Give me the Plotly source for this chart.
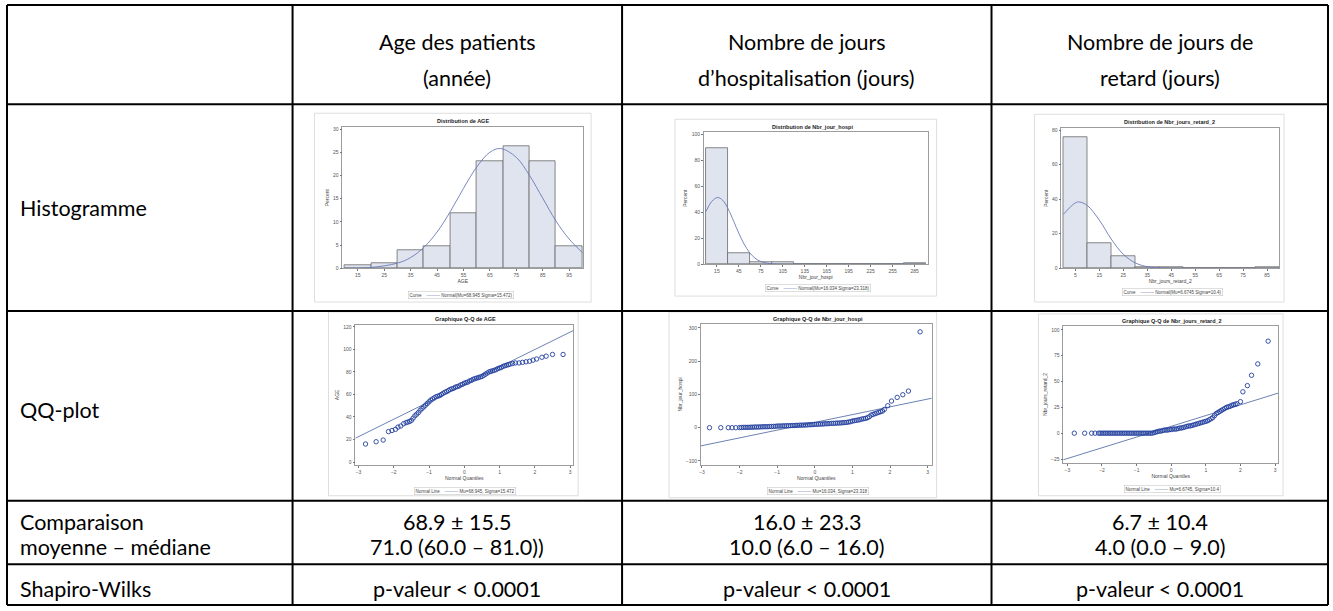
import plotly.graph_objects as go

W, H = 1333, 611

# ---------------- table text ----------------
col_headers = [["Age des patients", "(année)"],
               ["Nombre de jours", "d’hospitalisation (jours)"],
               ["Nombre de jours de", "retard (jours)"]]
row_labels = ["Histogramme", "QQ-plot", "Comparaison", "moyenne – médiane", "Shapiro-Wilks"]
mean_sd = ["68.9 ± 15.5", "16.0 ± 23.3", "6.7 ± 10.4"]
median_iqr = ["71.0 (60.0 – 81.0))", "10.0 (6.0 – 16.0)", "4.0 (0.0 – 9.0)"]
shapiro = ["p-valeur < 0.0001", "p-valeur < 0.0001", "p-valeur < 0.0001"]

# ---------------- histogram data ----------------
age_bins = [15, 25, 35, 45, 55, 65, 75, 85, 95]
age_pct = [0.6, 1.2, 3.8, 4.7, 11.8, 23.0, 26.2, 23.0, 4.7]
age_ticks = [15, 25, 35, 45, 55, 65, 75, 85, 95]
age_curve_x = [10, 20, 30, 35, 40, 45, 50, 55, 60, 65, 69, 75, 80, 85, 90, 95, 100]
age_curve_y = [0.02, 0.17, 1.1, 2.3, 4.5, 7.8, 12.2, 17.2, 21.8, 25.0, 25.8, 23.9, 20.0, 15.1, 10.2, 6.3, 3.4]

hosp_bins = [15, 45, 75, 105, 135, 165, 195, 225, 255, 285]
hosp_pct = [89.0, 8.5, 1.5, 1.5, 0.0, 0.0, 0.0, 0.0, 0.0, 0.5]
hosp_ticks = [15, 45, 75, 105, 135, 165, 195, 225, 255, 285]
hosp_curve_x = [0, 8, 16, 23, 30, 38, 45, 52, 60, 67, 75, 90, 105, 120, 300]
hosp_curve_y = [40.5, 48.3, 51.3, 49.1, 42.9, 32.9, 23.7, 15.6, 8.7, 4.7, 2.1, 0.3, 0.04, 0.0, 0.0]

ret_bins = [5, 15, 25, 35, 45, 55, 65, 75, 85]
ret_pct = [76.0, 14.5, 7.0, 0.5, 0.5, 0.3, 0.3, 0.0, 0.4]
ret_ticks = [5, 15, 25, 35, 45, 55, 65, 75, 85]
ret_curve_x = [0, 5, 6.7, 10, 15, 20, 25, 30, 35, 40, 50, 90]
ret_curve_y = [31.2, 37.9, 38.4, 36.4, 27.9, 16.9, 8.1, 3.1, 0.9, 0.23, 0.0, 0.0]

# ---------------- QQ data ----------------
age_q = [-2.8, -2.5, -2.3, -2.15, -2.05, -1.95, -1.88, -1.8, -1.72, -1.65, -1.6, -1.55, -1.5, -1.45,
         -1.40, -1.35, -1.30, -1.25, -1.20, -1.15, -1.10, -1.05, -1.00, -0.95, -0.90, -0.85, -0.80,
         -0.75, -0.70, -0.65, -0.60, -0.55, -0.50, -0.45, -0.40, -0.35, -0.30, -0.25, -0.20, -0.15,
         -0.10, -0.05, 0.00, 0.05, 0.10, 0.15, 0.20, 0.25, 0.30, 0.35, 0.40, 0.45, 0.50, 0.55, 0.60,
         0.65, 0.70, 0.75, 0.80, 0.85, 0.90, 0.95, 1.00, 1.05, 1.10, 1.15, 1.20, 1.25, 1.30,
         1.37, 1.45, 1.55, 1.65, 1.75, 1.85, 1.95, 2.05, 2.2, 2.32, 2.5, 2.8]
age_v = [16, 18, 19.5, 27, 28, 29, 31, 32, 34, 35, 35.5, 36, 37, 39,
         41, 42.5, 44, 46, 47.5, 49, 50.5, 52, 53.5, 55, 56, 57, 58,
         58.5, 59, 60, 61, 62, 62.5, 63.5, 64.5, 65, 65.5, 66.5, 67, 67.5,
         68.5, 69, 70, 70.5, 71, 72, 72.5, 73.5, 74, 74.5, 75, 75.5, 76, 77, 78,
         79, 80, 80.5, 81, 81.5, 82, 83, 83.5, 84, 85, 85.5, 86, 86.5, 87,
         87.5, 88, 88, 88.5, 89, 89.5, 90.5, 91.5, 93, 94, 95.5, 95.5]
age_line_x = [-3.2, 3.2]
age_line_y = [19.4, 118.5]

hosp_q = [-2.8, -2.5, -2.3, -2.2, -2.1, -2.0, -1.95, -1.9, -1.85, -1.8,
          -1.75, -1.70, -1.65, -1.60, -1.55, -1.50, -1.45, -1.40, -1.35, -1.30, -1.25, -1.20, -1.15,
          -1.10, -1.05, -1.00, -0.95, -0.90, -0.85, -0.80, -0.75, -0.70, -0.65, -0.60, -0.55, -0.50,
          -0.45, -0.40, -0.35, -0.30, -0.25, -0.20, -0.15, -0.10, -0.05, 0.00, 0.05, 0.10, 0.15,
          0.20, 0.25, 0.30, 0.35, 0.40, 0.45, 0.50, 0.55, 0.60, 0.65, 0.70, 0.75, 0.80, 0.85, 0.90,
          0.95, 1.00, 1.05, 1.10, 1.15, 1.20, 1.25, 1.30, 1.35, 1.40, 1.45, 1.50, 1.55, 1.60, 1.65,
          1.70, 1.75, 1.80, 1.85, 1.94, 2.04, 2.19, 2.34, 2.49, 2.8]
hosp_v = [0, 0, 0, 0, 0, 0.5, 0.5, 1, 1, 1,
          1, 1.5, 1.5, 2, 2, 2, 2.5, 2.5, 3, 3, 3, 3.5, 3.5,
          4, 4, 5, 5, 5, 5.5, 5.5, 6, 6, 6, 6.5, 6.5, 7,
          7, 7.5, 7.5, 8, 8, 8.5, 9, 9, 9.5, 10, 10, 10.5, 11,
          11, 11.5, 12, 12, 12.5, 13, 13, 13.5, 14, 14, 14.5, 15, 15.5, 16, 17,
          18, 20, 21, 22, 23, 24, 26, 27, 28, 30, 33, 38, 40, 42, 44,
          46, 48, 50, 55, 66, 80, 91, 99, 110, 288]
hosp_line_x = [-3.2, 3.2]
hosp_line_y = [-58.6, 90.6]

ret_q = [-2.8, -2.5, -2.3, -2.2, -2.1, -2.05,
         -2.00, -1.95, -1.90, -1.85, -1.80, -1.75, -1.70, -1.65, -1.60, -1.55, -1.50, -1.45, -1.40,
         -1.35, -1.30, -1.25, -1.20, -1.15, -1.10, -1.05, -1.00, -0.95, -0.90, -0.85, -0.80, -0.75,
         -0.70, -0.65, -0.60, -0.55, -0.50, -0.45, -0.40, -0.35, -0.30, -0.25, -0.20, -0.15, -0.10,
         -0.05, 0.00, 0.05, 0.10, 0.15, 0.20, 0.25, 0.30, 0.35, 0.40, 0.45, 0.50, 0.55, 0.60, 0.65,
         0.70, 0.75, 0.80, 0.85, 0.90, 0.95, 1.00, 1.05, 1.10, 1.15, 1.20, 1.25, 1.30, 1.35, 1.40,
         1.45, 1.50, 1.55, 1.60, 1.65, 1.70, 1.75, 1.80, 1.85, 1.90,
         2.0, 2.07, 2.2, 2.32, 2.5, 2.8]
ret_v = [0, 0, 0, 0, 0, 0,
         0, 0, 0, 0, 0, 0, 0, 0, 0, 0, 0, 0, 0,
         0, 0, 0, 0, 0, 0, 0, 0, 0, 0, 0, 0, 0,
         0, 0, 0, 0, 0.5, 1, 1.5, 2, 2, 2.5, 3, 3, 3,
         3.5, 3.5, 4, 4, 4, 4.5, 5, 5, 5.5, 6, 6.5, 7, 7, 7.5, 8,
         8.5, 9, 9.5, 10, 10.5, 11, 11.5, 12, 13, 14, 15, 17, 19, 20, 21,
         22, 23, 24, 25, 25.5, 26, 27, 27.5, 28, 28.5,
         30.5, 40, 46, 56, 67, 89]
ret_line_x = [-3.2, 3.2]
ret_line_y = [-26.6, 39.9]

FONT = "Lato"
SAS_FONT = "Liberation Sans"
BAR_FILL = "#dfe4ef"
BAR_EDGE = "#6b6b6b"
CURVE = "#6a7bb6"
QQ_MARK = "#23409e"
QQ_LINE = "#6c82b4"


def px(x):
    return x / W


def py(y):
    return 1 - y / H


fig = go.Figure()

# panel definitions: plot area in pixels, range, ticks
panels = [
    dict(box=(341, 127, 582, 269), xr=[9.2, 100.3], yr=[0, 30.4], xt=age_ticks, yt=[0, 5, 10, 15, 20, 25, 30],
         xtitle="AGE", ytitle="Percent"),
    dict(box=(703, 132, 927, 265), xr=[-2.7, 302.7], yr=[0, 101.5], xt=hosp_ticks, yt=[0, 20, 40, 60, 80, 100],
         xtitle="Nbr_jour_hospi", ytitle="Percent"),
    dict(box=(1061, 128, 1279, 269), xr=[-0.8, 90], yr=[0, 81.2], xt=ret_ticks, yt=[0, 20, 40, 60, 80],
         xtitle="Nbr_jours_retard_2", ytitle="Percent"),
    dict(box=(354, 326, 572, 467), xr=[-3.085, 3.085], yr=[-2.6, 121.8], xt=[-3, -2, -1, 0, 1, 2, 3],
         yt=[0, 20, 40, 60, 80, 100, 120], xtitle="Normal Quantiles", ytitle="AGE"),
    dict(box=(700, 325, 931, 467), xr=[-3.027, 3.106], yr=[-111.9, 311.9], xt=[-3, -2, -1, 0, 1, 2, 3],
         yt=[-100, 0, 100, 200, 300], xtitle="Normal Quantiles", ytitle="Nbr_jour_hospi"),
    dict(box=(1063, 327, 1278, 465), xr=[-3.115, 3.087], yr=[-28.8, 103.8], xt=[-3, -2, -1, 0, 1, 2, 3],
         yt=[-25, 0, 25, 50, 75, 100], xtitle="Normal Quantiles", ytitle="Nbr_jours_retard_2"),
]

layout_axes = {}
for i, p in enumerate(panels, start=1):
    x0, y0, x1, y1 = p["box"]
    common = dict(showline=True, mirror=True, linecolor="#9c9c9c", linewidth=0.8,
                  ticks="outside", ticklen=2, tickwidth=0.6, tickcolor="#777777",
                  tickfont=dict(size=5, color="#555555", family=SAS_FONT),
                  showgrid=False, zeroline=False, fixedrange=True)
    xa = dict(common, domain=[px(x0), px(x1)], range=p["xr"], tickvals=p["xt"],
              anchor="y" if i == 1 else f"y{i}",
              title=dict(text=p["xtitle"], font=dict(size=5, color="#444444", family=SAS_FONT), standoff=2))
    ya = dict(common, domain=[py(y1), py(y0)], range=p["yr"], tickvals=p["yt"],
              anchor="x" if i == 1 else f"x{i}",
              title=dict(text=p["ytitle"], font=dict(size=5, color="#444444", family=SAS_FONT), standoff=3))
    layout_axes["xaxis" if i == 1 else f"xaxis{i}"] = xa
    layout_axes["yaxis" if i == 1 else f"yaxis{i}"] = ya


def ax(i):
    return ("x" if i == 1 else f"x{i}"), ("y" if i == 1 else f"y{i}")


hists = [(age_bins, age_pct, 10, age_curve_x, age_curve_y),
         (hosp_bins, hosp_pct, 30, hosp_curve_x, hosp_curve_y),
         (ret_bins, ret_pct, 10, ret_curve_x, ret_curve_y)]
for i, (b, v, w, cx, cy) in enumerate(hists, start=1):
    xa, ya = ax(i)
    fig.add_trace(go.Bar(x=b, y=v, width=[w] * len(b), xaxis=xa, yaxis=ya,
                         marker=dict(color=BAR_FILL, line=dict(color=BAR_EDGE, width=0.8)),
                         showlegend=False, hoverinfo="skip"))
    fig.add_trace(go.Scatter(x=cx, y=cy, mode="lines", xaxis=xa, yaxis=ya,
                             line=dict(color=CURVE, width=0.9, shape="spline"),
                             showlegend=False, hoverinfo="skip"))

qqs = [(age_q, age_v, age_line_x, age_line_y),
       (hosp_q, hosp_v, hosp_line_x, hosp_line_y),
       (ret_q, ret_v, ret_line_x, ret_line_y)]
for j, (q, v, lx, ly) in enumerate(qqs, start=4):
    xa, ya = ax(j)
    fig.add_trace(go.Scatter(x=lx, y=ly, mode="lines", xaxis=xa, yaxis=ya,
                             line=dict(color=QQ_LINE, width=1.0),
                             showlegend=False, hoverinfo="skip"))
    fig.add_trace(go.Scatter(x=q, y=v, mode="markers", xaxis=xa, yaxis=ya,
                             marker=dict(symbol="circle-open", size=4.4, color=QQ_MARK,
                                         line=dict(width=0.9, color=QQ_MARK)),
                             showlegend=False, hoverinfo="skip"))

shapes = []
annotations = []

# image frames of the embedded SAS plots
frames = [(313, 113, 590, 303), (674, 119, 936, 297), (1034, 114, 1284, 303),
          (327, 313, 577, 498), (668, 313, 936, 500), (1038, 315, 1283, 498)]
for (x0, y0, x1, y1) in frames:
    shapes.append(dict(type="rect", xref="paper", yref="paper", x0=px(x0), x1=px(x1), y0=py(y1), y1=py(y0),
                       line=dict(color="#d6d6d6", width=0.8), fillcolor="rgba(0,0,0,0)", layer="below"))

titles = [("Distribution de AGE", 462, 121), ("Distribution de Nbr_jour_hospi", 812, 127),
          ("Distribution de Nbr_jours_retard_2", 1169, 122), ("Graphique Q-Q de AGE", 464, 320),
          ("Graphique Q-Q de Nbr_jour_hospi", 817, 320), ("Graphique Q-Q de Nbr_jours_retard_2", 1172, 322)]
for t, x, y in titles:
    annotations.append(dict(text=f"<b>{t}</b>", x=px(x), y=py(y), xref="paper", yref="paper",
                            showarrow=False, font=dict(size=5.5, family=SAS_FONT, color="#222222"),
                            xanchor="center", yanchor="middle"))

legends = [("Curve", "Normal(Mu=68.945 Sigma=15.472)", 460, 296),
           ("Curve", "Normal(Mu=16.034 Sigma=23.318)", 817, 289),
           ("Curve", "Normal(Mu=6.6745 Sigma=10.4)", 1172, 293),
           ("Normal Line", "Mu=68.945, Sigma=15.472", 464, 493),
           ("Normal Line", "Mu=16.034, Sigma=23.318", 817, 493),
           ("Normal Line", "Mu=6.6745, Sigma=10.4", 1172, 491)]
for lab, txt_, x, y in legends:
    annotations.append(dict(
        text=f"{lab}    <span style='color:{CURVE}'>———</span> {txt_}",
        x=px(x), y=py(y), xref="paper", yref="paper", showarrow=False,
        font=dict(size=4.5, family=SAS_FONT, color="#444444"),
        bordercolor="#c8c8c8", borderwidth=0.6, borderpad=1, bgcolor="white",
        xanchor="center", yanchor="middle"))

# table grid
h_lines = [4, 104, 312, 503, 567, 608]
v_lines = [5, 291, 621, 991, 1328]
for y in h_lines:
    shapes.append(dict(type="line", xref="paper", yref="paper", x0=px(v_lines[0]), x1=px(v_lines[-1]),
                       y0=py(y), y1=py(y), line=dict(color="black", width=2)))
for x in v_lines:
    shapes.append(dict(type="line", xref="paper", yref="paper", x0=px(x), x1=px(x),
                       y0=py(h_lines[0]), y1=py(h_lines[-1]), line=dict(color="black", width=2)))

col_centers = [456, 806, 1160]
TS = 21.5


def txt(s, x, y, anchor="center"):
    annotations.append(dict(text=s, x=px(x), y=py(y), xref="paper", yref="paper", showarrow=False,
                            font=dict(size=TS, family=FONT, color="black"),
                            xanchor=anchor, yanchor="middle"))


for c, (l1, l2) in zip(col_centers, col_headers):
    txt(l1, c, 41)
    txt(l2, c, 78)

row_y = [208, 412, 524, 550, 592]
for lab, y in zip(row_labels, row_y):
    txt(lab, 16, y, "left")

for c, a, b, s in zip(col_centers, mean_sd, median_iqr, shapiro):
    txt(a, c, 524)
    txt(b, c, 550)
    txt(s, c, 592)

fig.update_layout(width=W, height=H, margin=dict(l=0, r=0, t=0, b=0),
                  paper_bgcolor="white", plot_bgcolor="white", showlegend=False,
                  bargap=0, shapes=shapes, annotations=annotations, **layout_axes)

fig.write_html("out.html", config={"displayModeBar": False},
               post_script="document.body.style.margin='0px';document.body.style.overflow='hidden';")
